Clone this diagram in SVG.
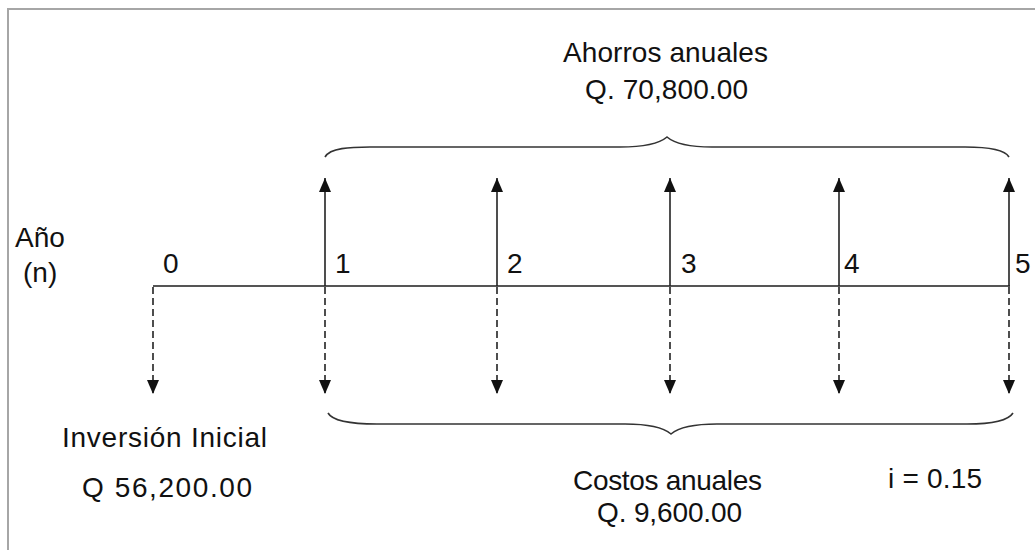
<svg xmlns="http://www.w3.org/2000/svg" width="1035" height="550" viewBox="0 0 1035 550">
<style>
text{font-family:"Liberation Sans",Arial,sans-serif;font-size:28px;fill:#111}
.up{stroke:#222;stroke-width:1.6;fill:none;marker-end:url(#ah)}
.dn{stroke:#222;stroke-width:1.6;fill:none;stroke-dasharray:7,4;marker-end:url(#ah)}
.br{stroke:#333;stroke-width:1.6;fill:none}
</style>
<defs>
<marker id="ah" markerUnits="userSpaceOnUse" markerWidth="14" markerHeight="12" viewBox="0 0 14 12" refX="14" refY="6" orient="auto">
<path d="M0,0 L14,6 L0,12 z" fill="#111"/>
</marker>
</defs>
<rect width="1035" height="550" fill="#fff"/>
<path d="M8,550 L8,9 L1035,9" fill="none" stroke="#a6a6a6" stroke-width="2"/>
<g id="connectors">
<line x1="153" y1="286" x2="1010" y2="286" stroke="#555" stroke-width="2"/>
<line class="dn" x1="153" y1="287" x2="153" y2="394"/>
<line class="up" x1="325" y1="286" x2="325" y2="178"/>
<line class="dn" x1="325" y1="287" x2="325" y2="394"/>
<line class="up" x1="497" y1="286" x2="497" y2="178"/>
<line class="dn" x1="497" y1="287" x2="497" y2="394"/>
<line class="up" x1="670" y1="286" x2="670" y2="178"/>
<line class="dn" x1="670" y1="287" x2="670" y2="394"/>
<line class="up" x1="839" y1="286" x2="839" y2="178"/>
<line class="dn" x1="839" y1="287" x2="839" y2="394"/>
<line class="up" x1="1009" y1="286" x2="1009" y2="178"/>
<line class="dn" x1="1009" y1="287" x2="1009" y2="394"/>
</g>
<g id="brace-top">
<path class="br" d="M325,157 C330,148 350,147 370,147 L620,147 C645,147 660,143 667,137 C674,143 690,147 712,147 L965,147 C990,147 1005,150 1009,157"/>
</g>
<g id="brace-bottom">
<path class="br" d="M328,413 C333,422 355,424 377,424 L625,424 C650,424 664,428 671,434 C678,428 692,424 717,424 L967,424 C992,424 1008,421 1013,413"/>
</g>
<g id="label-ahorros">
<text x="563" y="62" textLength="205" lengthAdjust="spacing">Ahorros anuales</text>
<text x="585" y="99" textLength="163" lengthAdjust="spacing">Q. 70,800.00</text>
</g>
<g id="label-anio">
<text x="15" y="247">Año</text>
<text x="23" y="282">(n)</text>
</g>
<g id="years">
<text x="163" y="273">0</text>
<text x="335" y="273">1</text>
<text x="507" y="273">2</text>
<text x="681" y="273">3</text>
<text x="844" y="273">4</text>
<text x="1015" y="273">5</text>
</g>
<g id="label-inversion">
<text x="62" y="447" textLength="205" lengthAdjust="spacing">Inversión Inicial</text>
<text x="82" y="497" textLength="170" lengthAdjust="spacing">Q 56,200.00</text>
</g>
<g id="label-costos">
<text x="573" y="490" textLength="189" lengthAdjust="spacing">Costos anuales</text>
<text x="597" y="522" textLength="145" lengthAdjust="spacing">Q. 9,600.00</text>
</g>
<g id="label-interes">
<text x="888" y="488" textLength="94" lengthAdjust="spacing">i = 0.15</text>
</g>
</svg>
